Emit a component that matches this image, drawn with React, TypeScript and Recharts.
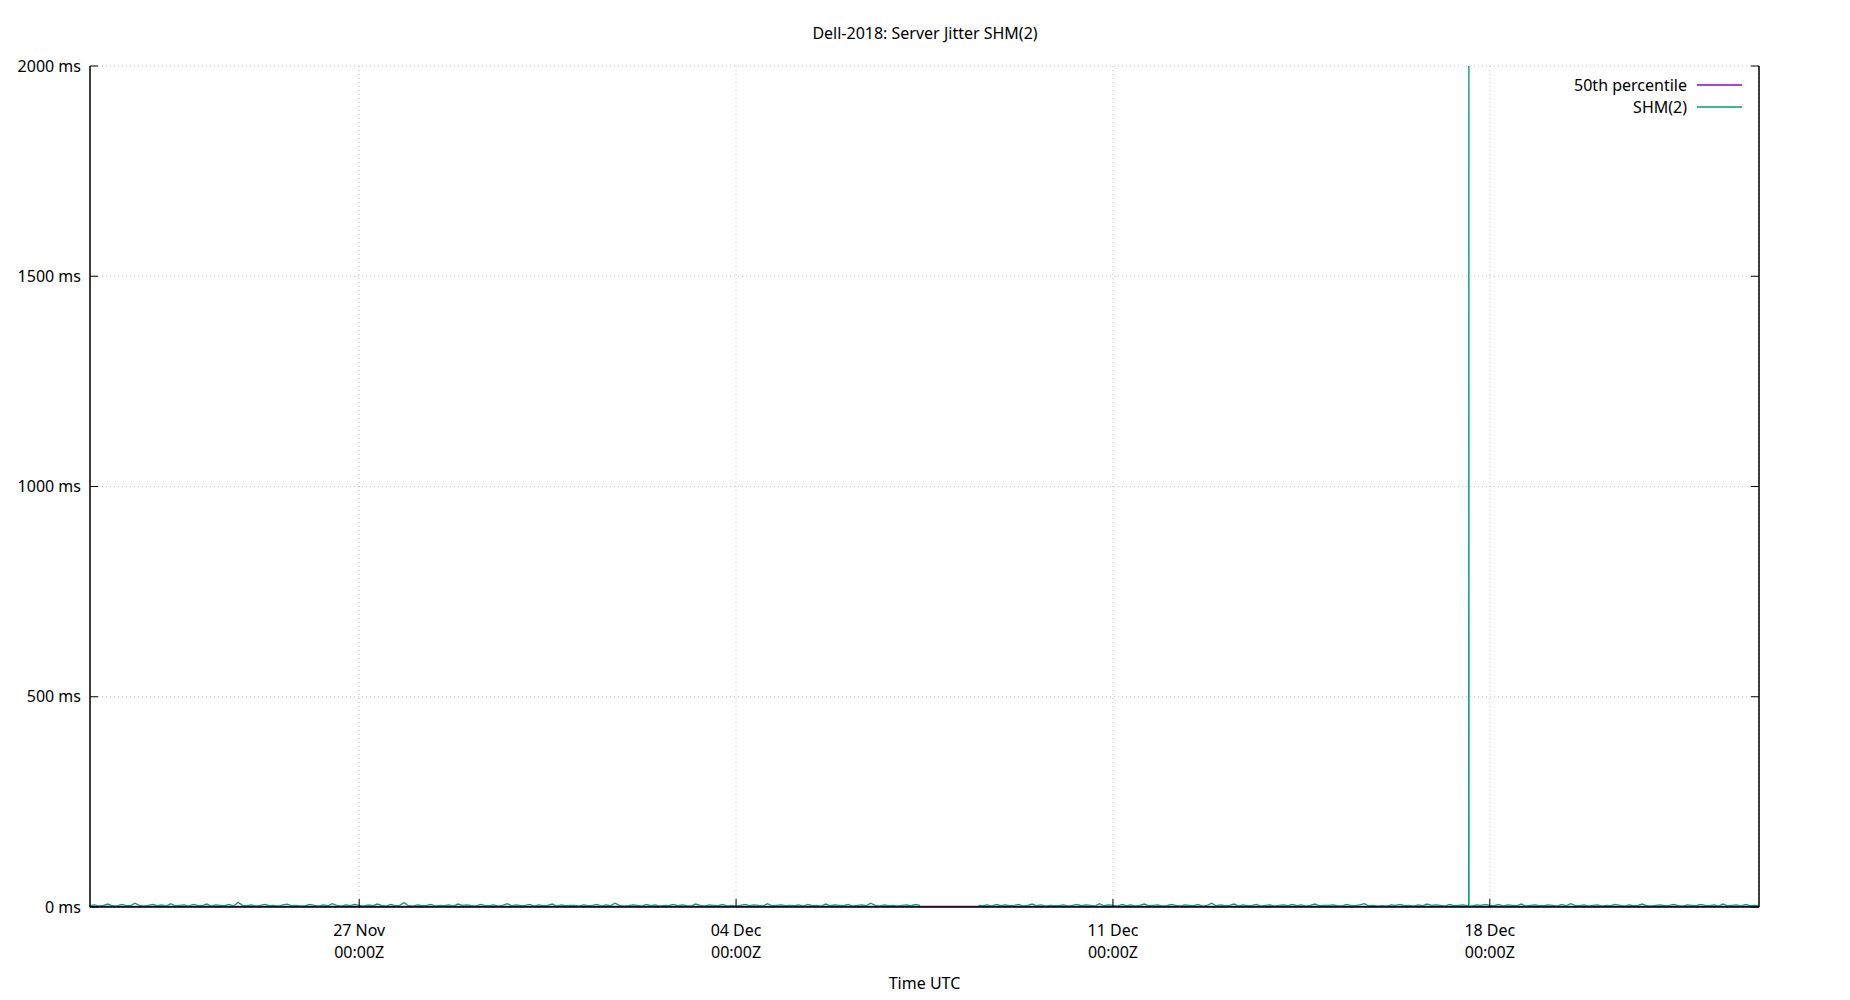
import React from 'react';
import { CartesianGrid, Legend, Line, LineChart, XAxis, YAxis } from 'recharts';

const HOUR = 3600 * 1000;
const START = Date.UTC(2018, 10, 22);
const STEP = 2 * HOUR;
const END = START + 372 * STEP;

// SHM(2) jitter in ms, one reading every 2 hours from 22 Nov 00:00Z (null = no data)
const shmValues: (number | null)[] = [
  3, 5, 2, 4, 7, 3, 2, 6, 4, 3, 9, 4,
  2, 4, 6, 3, 5, 2, 8, 3, 4, 5, 2, 6,
  4, 3, 7, 2, 5, 4, 3, 6, 2, 11, 4, 3,
  5, 2, 4, 6, 3, 4, 2, 5, 7, 3, 4, 2,
  3, 6, 4, 2, 5, 3, 8, 4, 2, 5, 3, 6,
  4, 2, 5, 3, 7, 4, 2, 6, 3, 4, 10, 3,
  2, 5, 3, 4, 6, 2, 4, 3, 5, 2, 7, 4,
  5, 3, 2, 6, 4, 3, 5, 2, 4, 8, 3, 5,
  3, 4, 6, 2, 5, 3, 4, 7, 2, 5, 3, 4,
  4, 2, 5, 3, 4, 6, 2, 5, 3, 9, 4, 2,
  3, 5, 4, 2, 6, 3, 5, 2, 4, 3, 6, 3,
  5, 3, 2, 7, 4, 2, 5, 4, 3, 6, 2, 4,
  2, 4, 6, 3, 5, 4, 2, 8, 3, 4, 5, 3,
  4, 3, 5, 2, 6, 3, 4, 2, 7, 3, 5, 4,
  3, 6, 2, 4, 5, 3, 9, 4, 2, 5, 3, 4,
  2, 4, 5, 3, 6, 4, null, null, null, null, null, null,
  null, null, null, null, null, null, 4, 3, 5, 2, 6, 3,
  5, 3, 4, 6, 2, 4, 7, 3, 5, 2, 4, 3,
  3, 5, 2, 4, 6, 3, 5, 4, 2, 8, 3, 5,
  4, 2, 6, 3, 5, 2, 4, 7, 3, 4, 5, 2,
  3, 6, 4, 2, 5, 4, 3, 6, 2, 4, 9, 3,
  5, 3, 4, 7, 2, 5, 3, 4, 6, 2, 4, 5,
  2, 4, 5, 3, 6, 3, 5, 2, 4, 7, 3, 4,
  4, 5, 3, 2, 6, 4, 3, 5, 8, 3, 4, 2,
  3, 2, 5, 4, 6, 3, 4, 2, 5, 3, 7, 4,
  5, 4, 2, 6, 3, 4, 5, 3, 2, 5, 4, 6,
  4, 3, 6, 2, 5, 4, 3, 7, 2, 4, 5, 3,
  3, 5, 4, 2, 6, 3, 8, 4, 3, 5, 2, 4,
  5, 2, 4, 3, 6, 4, 2, 5, 3, 4, 7, 3,
  2, 4, 5, 3, 4, 6, 3, 2, 5, 4, 3, 6,
  4, 3, 5, 2, 7, 3, 4, 5, 2, 6, 3, 4,
  3
];

// the big excursion on 17 Dec
const spikeTimes = [
  Date.UTC(2018, 11, 17, 14, 36),
  Date.UTC(2018, 11, 17, 14, 40),
  Date.UTC(2018, 11, 17, 14, 44)
];
const spikeValues = [3, 2650, 2];

const p50Times = [START, END];
const p50Values = [1.2, 1.2];

const xTicks = [
  Date.UTC(2018, 10, 27),
  Date.UTC(2018, 11, 4),
  Date.UTC(2018, 11, 11),
  Date.UTC(2018, 11, 18)
];
const yTicks = [0, 500, 1000, 1500, 2000];
const monthNames = ['Jan', 'Feb', 'Mar', 'Apr', 'May', 'Jun', 'Jul', 'Aug', 'Sep', 'Oct', 'Nov', 'Dec'];

const PURPLE = '#9400d3';
const GREEN = '#009e73';
const FONT = '"Noto Sans", "Open Sans", sans-serif';

const shmData = [
  ...shmValues.map((v, i) => ({ t: START + i * STEP, shm: v })),
  ...spikeTimes.map((t, i) => ({ t, shm: spikeValues[i] }))
].sort((a, b) => a.t - b.t);

const p50Data = p50Times.map((t, i) => ({ t, p50: p50Values[i] }));

const pad = (n: number) => String(n).padStart(2, '0');

function BottomTick({ x, y, payload }: any) {
  const d = new Date(payload.value);
  return (
    <g>
      <line stroke='#000' x1={x} x2={x} y1={y} y2={y - 8} />
      <text fill='#000' fontFamily={FONT} fontSize={16} textAnchor='middle' x={x} y={y}>
        <tspan dy={29} x={x}>{`${pad(d.getUTCDate())} ${monthNames[d.getUTCMonth()]}`}</tspan>
        <tspan dy={22} x={x}>{`${pad(d.getUTCHours())}:${pad(d.getUTCMinutes())}Z`}</tspan>
      </text>
    </g>
  );
}

function TopTick({ x, y }: any) {
  return <line stroke='#000' x1={x} x2={x} y1={y} y2={y + 8} />;
}

function LeftTick({ x, y, payload }: any) {
  return (
    <g>
      <line stroke='#000' x1={x} x2={x + 8} y1={y} y2={y} />
      <text dy='0.35em' fill='#000' fontFamily={FONT} fontSize={16} textAnchor='end' x={x - 9} y={y}>
        {`${payload.value} ms`}
      </text>
    </g>
  );
}

function RightTick({ x, y }: any) {
  return <line stroke='#000' x1={x} x2={x - 8} y1={y} y2={y} />;
}

function KeyBox({ payload }: any) {
  return (
    <div style={{ fontFamily: FONT, fontSize: 16, color: '#000' }}>
      {(payload || []).map((p: any) => (
        <div key={p.value} style={{ display: 'flex', alignItems: 'center', justifyContent: 'flex-end', height: 22 }}>
          <span style={{ marginRight: 10 }}>{p.value}</span>
          <svg height={4} width={45}>
            <line stroke={p.color} strokeWidth={1.5} x1={0} x2={45} y1={2} y2={2} />
          </svg>
        </div>
      ))}
    </div>
  );
}

export default function App() {
  return (
    <div style={{ position: 'absolute', left: 0, top: 0, width: 1850, height: 1000, background: '#fff' }}>
      <div
        style={{
          position: 'absolute',
          top: 22,
          left: 0,
          width: 1850,
          textAlign: 'center',
          fontFamily: FONT,
          fontSize: 16,
          lineHeight: '22px',
          color: '#000'
        }}
      >
        Dell-2018: Server Jitter SHM(2)
      </div>
      <LineChart
        height={1000}
        margin={{ top: 66, right: 0, left: 0, bottom: 0 }}
        style={{ position: 'absolute', left: 0, top: 0 }}
        width={1850}
      >
        <CartesianGrid stroke='#c4c4c4' strokeDasharray='1 3' />
        <XAxis
          allowDataOverflow
          axisLine={{ stroke: '#000', strokeWidth: 1.5 }}
          dataKey='t'
          domain={[START, END]}
          height={93}
          interval={0}
          label={{ value: 'Time UTC', position: 'insideBottom', offset: 11, fill: '#000', fontFamily: FONT, fontSize: 16 }}
          scale='linear'
          tick={<BottomTick />}
          tickLine={false}
          tickMargin={0}
          tickSize={0}
          ticks={xTicks}
          type='number'
        />
        <XAxis
          allowDataOverflow
          axisLine={{ stroke: '#000', strokeWidth: 1.5 }}
          dataKey='t'
          domain={[START, END]}
          height={0}
          interval={0}
          orientation='top'
          scale='linear'
          tick={<TopTick />}
          tickLine={false}
          tickMargin={0}
          tickSize={0}
          ticks={xTicks}
          type='number'
          xAxisId='top'
        />
        <YAxis
          allowDataOverflow
          axisLine={{ stroke: '#000', strokeWidth: 1.5 }}
          domain={[0, 2000]}
          interval={0}
          tick={<LeftTick />}
          tickLine={false}
          tickMargin={0}
          tickSize={0}
          ticks={yTicks}
          type='number'
          width={90}
        />
        <YAxis
          allowDataOverflow
          axisLine={{ stroke: '#000', strokeWidth: 1.5 }}
          domain={[0, 2000]}
          interval={0}
          orientation='right'
          tick={<RightTick />}
          tickLine={false}
          tickMargin={0}
          tickSize={0}
          ticks={yTicks}
          type='number'
          width={91}
          yAxisId='right'
        />
        <Legend
          align='center'
          content={<KeyBox />}
          layout='vertical'
          verticalAlign='middle'
          wrapperStyle={{ top: 74, right: 108, left: 'auto', width: 'auto', height: 'auto' }}
        />
        <Line
          data={p50Data}
          dataKey='p50'
          dot={false}
          isAnimationActive={false}
          name='50th percentile'
          stroke={PURPLE}
          strokeWidth={1.5}
          type='linear'
        />
        <Line
          data={shmData}
          dataKey='shm'
          dot={false}
          isAnimationActive={false}
          name='SHM(2)'
          stroke={GREEN}
          strokeWidth={1.3}
          type='linear'
        />
      </LineChart>
    </div>
  );
}
